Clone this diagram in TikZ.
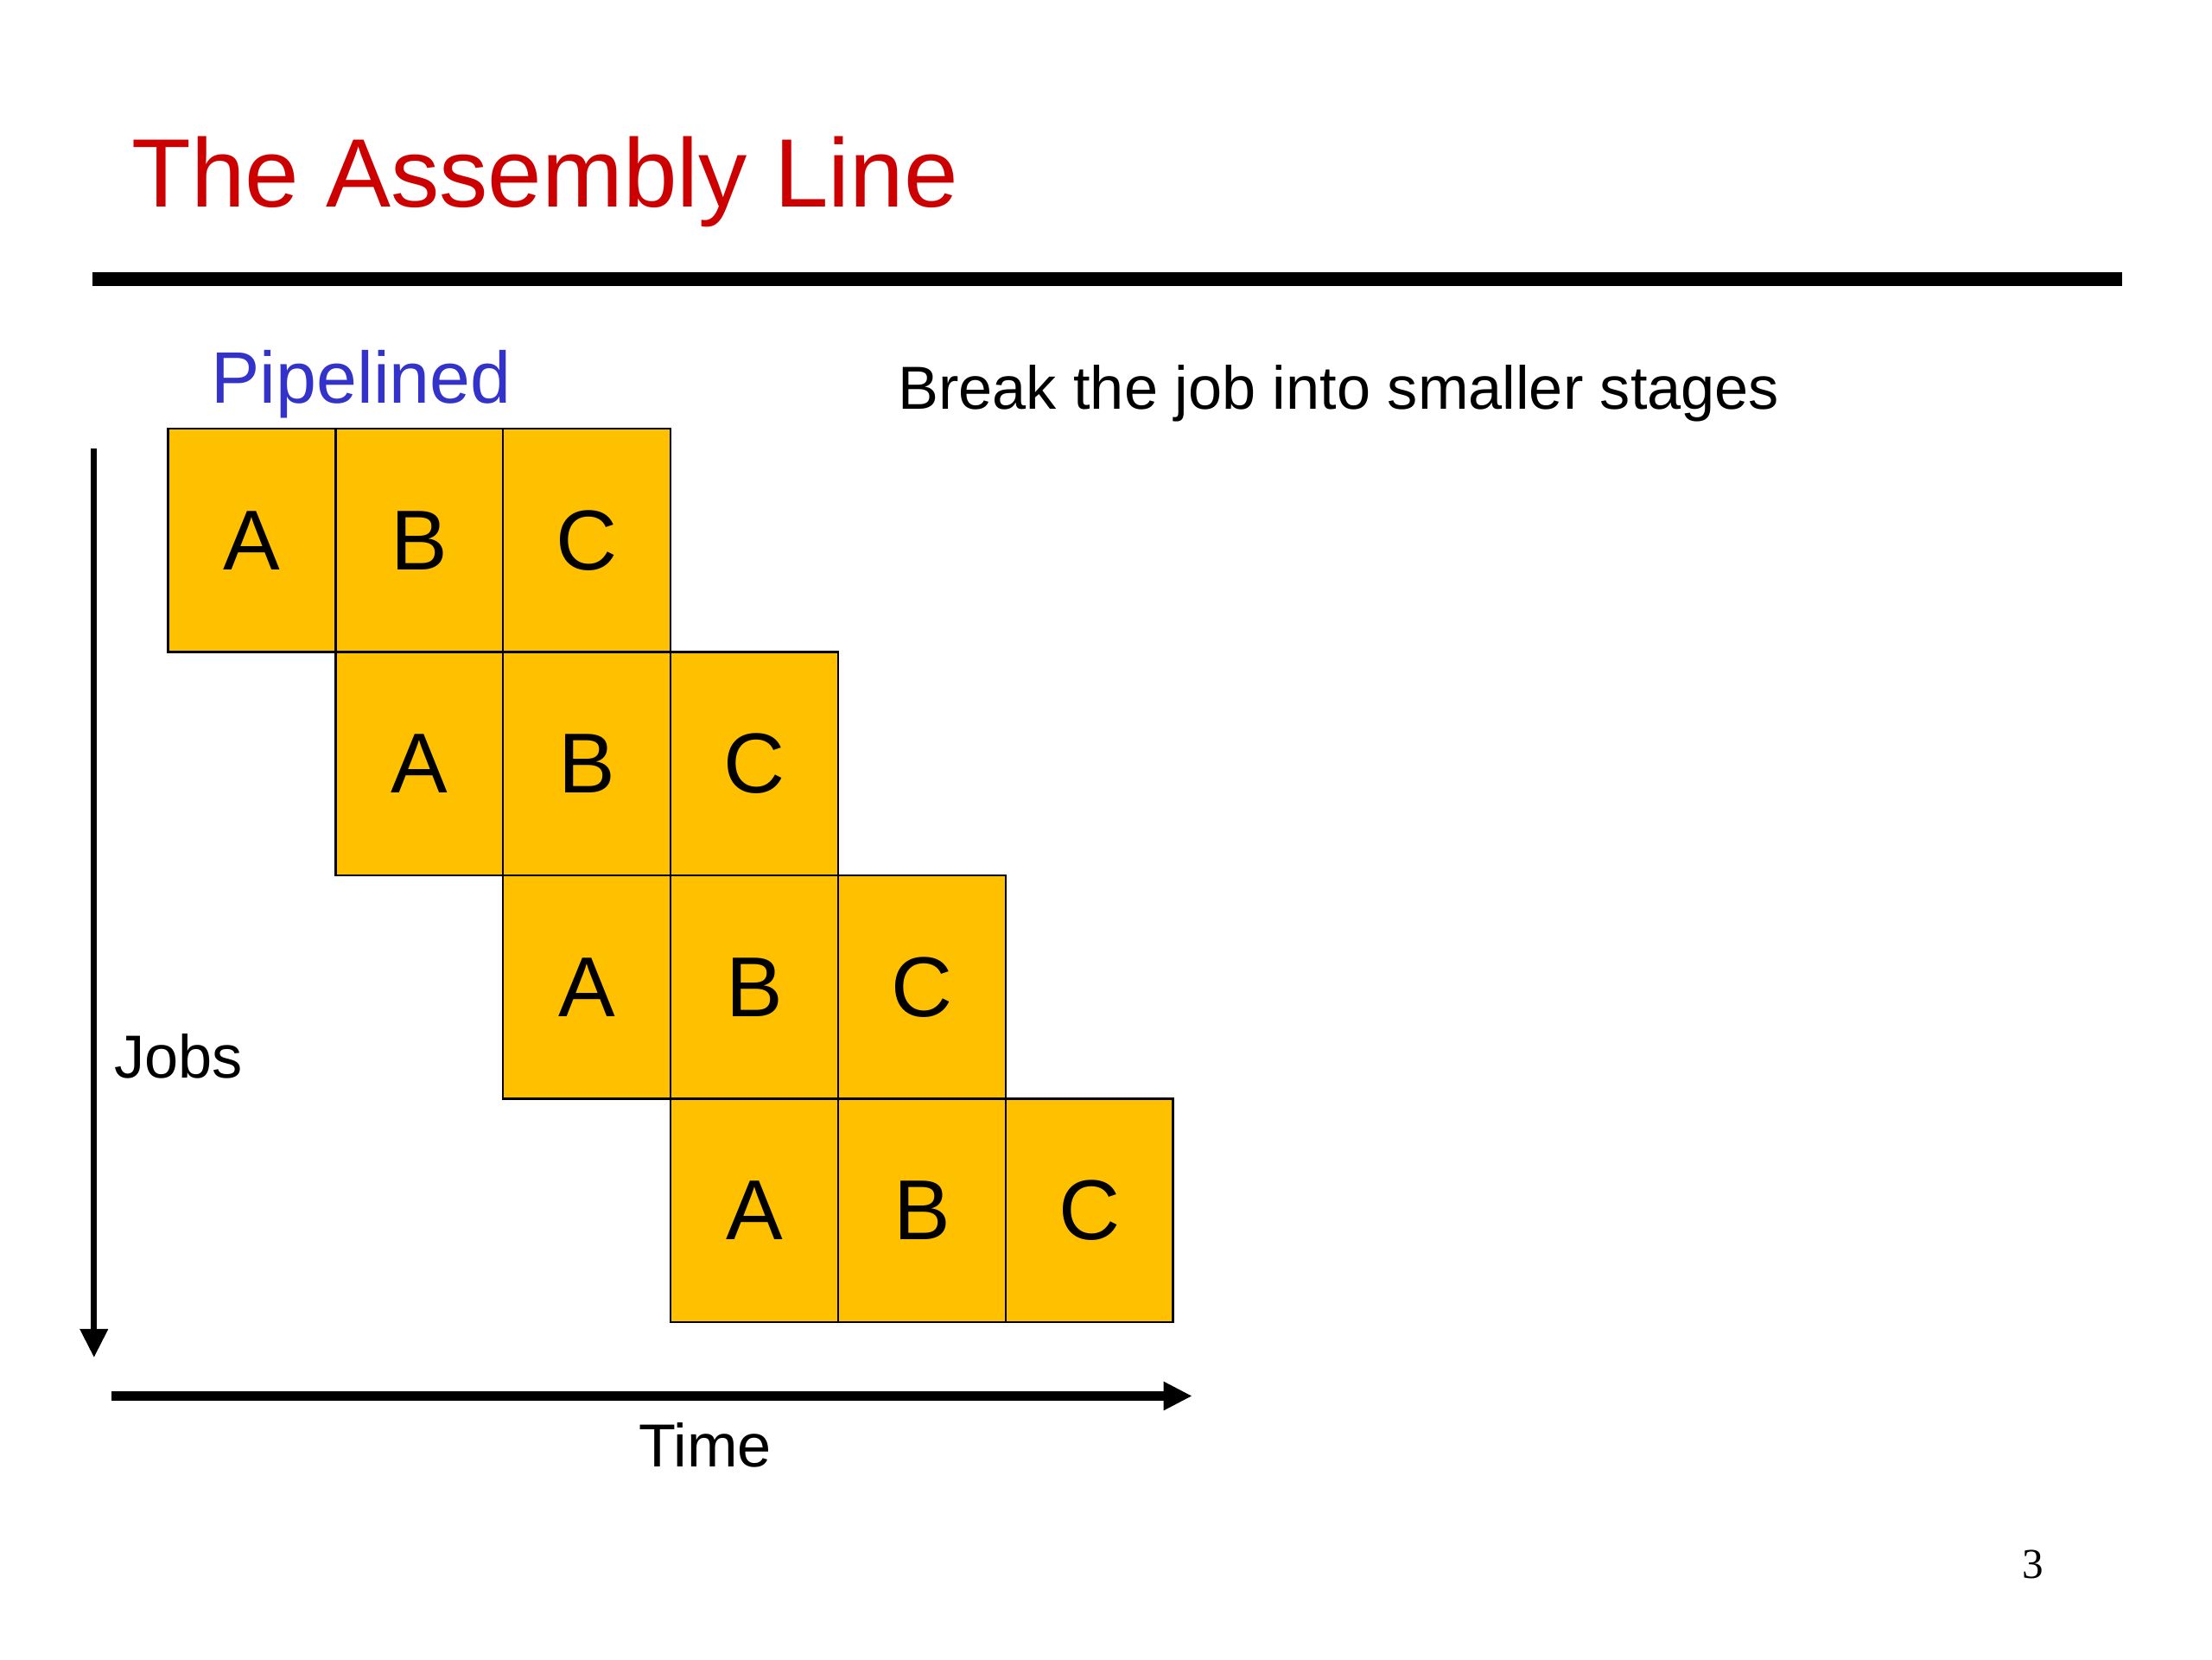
\documentclass[tikz,border=0pt]{standalone}
\usepackage{fontspec}
\setmainfont{Liberation Sans}
\newfontfamily\serifnum{Liberation Serif}
\usetikzlibrary{arrows.meta}
\definecolor{titlered}{RGB}{204,0,0}
\definecolor{pipeblue}{RGB}{51,51,204}
\definecolor{cellfill}{RGB}{255,192,0}
\begin{document}
\begin{tikzpicture}[x=0.016484cm,y=-0.016484cm,
  cell/.style={draw=black,line width=0.7pt,fill=cellfill,inner sep=0pt,
    minimum width=1.9385cm,minimum height=2.5847cm,
    font=\fontsize{28}{32}\selectfont},
  lbl/.style={inner sep=0pt,anchor=base west,font=\fontsize{20}{24}\selectfont},
  arr/.style={-{Triangle[length=0.33cm,width=0.31cm]}}]
\useasboundingbox[fill=white] (0,0) rectangle (1553,1165);
% title and rule
\node[inner sep=0pt,anchor=base west,text=titlered,font=\fontsize{32}{38}\selectfont] (title) at (92,145) {The Assembly Line};
\coordinate (ruleL) at (65,196);
\coordinate (ruleR) at (1490,196);
\draw[line width=4.7pt] (ruleL) -- (ruleR);
% labels
\node[lbl,text=pipeblue,font=\fontsize{24}{28}\selectfont] (pipe) at (148,283) {Pipelined};
\node[lbl] (break) at (630,287) {Break the job into smaller stages};
\node[lbl] (jobs) at (80,757) {Jobs};
\node[lbl] (time) at (448,1030) {Time};
\node[inner sep=0pt,anchor=base,font=\serifnum\fontsize{14}{16}\selectfont] (page) at (1427,1108) {3};
% cells
\foreach \r in {0,1,2,3}{
  \foreach \c/\t in {0/A,1/B,2/C}{
    \node[cell] (cell-\r-\c) at ({118+(\r+\c)*117.6+58.8},{301+\r*156.8+78.4}) {\t};
  }
}
% axes
\coordinate (jtop) at (66,315);
\coordinate (jbot) at (66,953);
\draw[arr,line width=2pt] (jtop) -- (jbot);
\coordinate (tleft) at (78,980);
\coordinate (tright) at (837,980);
\draw[arr,line width=3pt] (tleft) -- (tright);
\end{tikzpicture}
\end{document}
